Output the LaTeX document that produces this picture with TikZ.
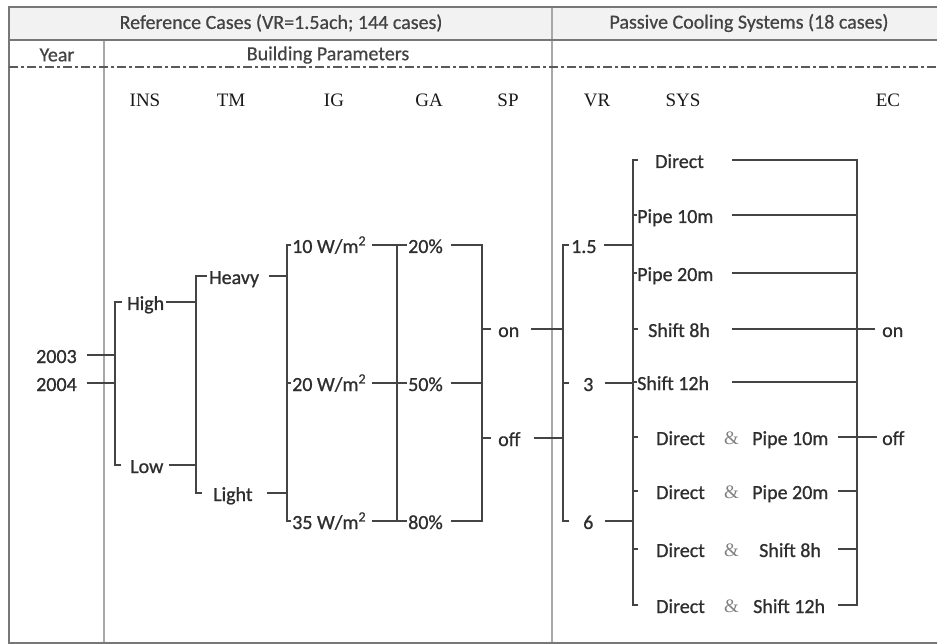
\documentclass[tikz,border=0pt]{standalone}
\usepackage{fontspec}
\setmainfont{Carlito}
\newfontfamily\lblfont{Carlito}[FakeBold=0.9]
\newfontfamily\hdfont{Carlito}[FakeBold=0.6]
\newfontfamily\serifhd{Liberation Serif}
\definecolor{txt}{HTML}{2E2E2E}
\definecolor{lc}{HTML}{444444}
\definecolor{frm}{HTML}{777777}
\definecolor{hdbg}{HTML}{F2F2F2}
\definecolor{sepc}{HTML}{A8A8A8}
\begin{document}
\begin{tikzpicture}[x=1pt,y=-1pt,
  lbl/.style={font=\lblfont\fontsize{20}{20}\selectfont, text=txt, inner sep=0pt, anchor=west, text height=16pt, text depth=0pt},
  hd/.style={font=\hdfont\fontsize{20}{20}\selectfont, text=txt!90, inner sep=0pt},
  colh/.style={font=\serifhd\fontsize{19}{19}\selectfont, text=black!90, inner sep=0pt},
  amp/.style={font=\serifhd\fontsize{19}{19}\selectfont, text=black!50, inner sep=0pt, anchor=west, text height=14pt, text depth=0pt},
  ln/.style={draw=lc, line width=1.9pt},
  frame/.style={draw=frm, line width=2.8pt},
  sepline/.style={draw=sepc, line width=1.6pt},
  dd/.style={draw=black!65, line width=1.9pt, dash pattern=on 9pt off 3pt on 3pt off 3pt}]
\useasboundingbox (0,0) rectangle (937,644);
% table frame
\fill[hdbg] (9,7) rectangle (937,40);
\draw[sepline] (552,7) -- (552,643);
\draw[sepline] (104,40) -- (104,643);
\draw[frame] (937,7) -- (9,7) -- (9,643) -- (937,643);
\draw[frame] (9,40) -- (937,40);
\draw[dd] (9,67) -- (937,67);
% headers
\node[hd] (h1) at (281,23) {Reference Cases (VR=1.5ach; 144 cases)};
\node[hd] (h2) at (749,23) {Passive Cooling Systems (18 cases)};
\node[hd] (h3) at (57,55) {Year};
\node[hd] (h4) at (328,55) {Building Parameters};
\node[colh] (cINS) at (145,100) {INS};
\node[colh] (cTM) at (231,100) {TM};
\node[colh] (cIG) at (334,100) {IG};
\node[colh] (cGA) at (429,100) {GA};
\node[colh] (cSP) at (508,100) {SP};
\node[colh] (cVR) at (597,100) {VR};
\node[colh] (cSYS) at (683,100) {SYS};
\node[colh] (cEC) at (888,100) {EC};
% bracket x positions
\coordinate (insx) at (115,0);
\coordinate (tmx) at (196,0);
\coordinate (igx) at (287,0);
\coordinate (gax) at (397,0);
\coordinate (spx) at (482,0);
\coordinate (vrx) at (563,0);
\coordinate (sysx) at (633,0);
\coordinate (ecx) at (857,0);
\coordinate (lsA) at (732,0);
\coordinate (lsB) at (838,0);
% years
\node[lbl] (y3) at (36,355) {2003};
\node[lbl] (y4) at (36,383) {2004};
\draw[ln] ([xshift=10pt]y3.east) -- (y3.east -| insx);
\draw[ln] ([xshift=10pt]y4.east) -- (y4.east -| insx);
% INS
\node[lbl] (high) at (127,302) {High};
\node[lbl] (low) at (130,465) {Low};
\draw[ln] (high.west -| insx) ++(7,0) -- ++(-7,0) -- (low.west -| insx) -- ++(6,0);
\draw[ln] ([xshift=2pt]high.east) -- (high.east -| tmx);
\draw[ln] ([xshift=5pt]low.east) -- (low.east -| tmx);
% TM
\node[lbl] (heavy) at (209,276) {Heavy};
\node[lbl] (light) at (213,493) {Light};
\draw[ln] (heavy.west -| tmx) ++(11,0) -- ++(-11,0) -- (light.west -| tmx) -- ++(6,0);
\draw[ln] ([xshift=10pt]heavy.east) -- (heavy.east -| igx);
\draw[ln] ([xshift=14pt]light.east) -- (light.east -| igx);
% IG
\node[lbl] (ig1) at (292,245) {10 W/m\textsuperscript{2}};
\node[lbl] (ig2) at (292,383) {20 W/m\textsuperscript{2}};
\node[lbl] (ig3) at (292,521) {35 W/m\textsuperscript{2}};
\draw[ln] (ig1.west -| igx) ++(4,0) -- ++(-4,0) -- (ig3.west -| igx) -- ++(4,0);
\draw[ln] (ig2.west -| igx) -- ++(4,0);
% GA
\node[lbl] (ga1) at (408,245) {20\%};
\node[lbl] (ga2) at (408,383) {50\%};
\node[lbl] (ga3) at (408,521) {80\%};
\draw[ln] ([xshift=6pt]ig1.east) -- ([xshift=-1pt]ga1.west);
\draw[ln] ([xshift=6pt]ig2.east) -- ([xshift=-1pt]ga2.west);
\draw[ln] ([xshift=6pt]ig3.east) -- ([xshift=-1pt]ga3.west);
\draw[ln] (ga1.west -| gax) -- (ga3.west -| gax);
\draw[ln] ([xshift=8pt]ga1.east) -- (ga1.east -| spx) -- (ga3.east -| spx) -- ([xshift=8pt]ga3.east);
\draw[ln] ([xshift=8pt]ga2.east) -- (ga2.east -| spx);
% SP
\node[lbl] (on) at (498,329) {on};
\node[lbl] (off) at (498,438) {off};
\draw[ln] (on.west -| spx) -- ++(9,0);
\draw[ln] (off.west -| spx) -- ++(9,0);
\draw[ln] ([xshift=12pt]on.east) -- (on.east -| vrx);
\draw[ln] ([xshift=13pt]off.east) -- (off.east -| vrx);
% VR
\node[lbl] (vr1) at (571,245) {1.5};
\node[lbl] (vr2) at (583,383) {3};
\node[lbl] (vr3) at (583,521) {6};
\draw[ln] (vr1.west -| vrx) ++(6,0) -- ++(-6,0) -- (vr3.west -| vrx) -- ++(6,0);
\draw[ln] (vr2.west -| vrx) -- ++(6,0);
\draw[ln] ([xshift=7pt]vr1.east) -- (vr1.east -| sysx);
\draw[ln] ([xshift=11pt]vr2.east) -- (vr2.east -| sysx);
\draw[ln] ([xshift=11pt]vr3.east) -- (vr3.east -| sysx);
% SYS
\node[lbl] (s1) at (655,160) {Direct};
\node[lbl] (s2) at (637,215) {Pipe 10m};
\node[lbl] (s3) at (637,273) {Pipe 20m};
\node[lbl] (s4) at (648,329) {Shift 8h};
\node[lbl] (s5) at (637,382) {Shift 12h};
\node[lbl] (d6) at (656,437) {Direct};
\node[amp] (a6) at (724,437) {\&};
\node[lbl] (p6) at (752,437) {Pipe 10m};
\node[lbl] (d7) at (656,491) {Direct};
\node[amp] (a7) at (724,491) {\&};
\node[lbl] (p7) at (752,491) {Pipe 20m};
\node[lbl] (d8) at (656,549) {Direct};
\node[amp] (a8) at (724,549) {\&};
\node[lbl] (p8) at (759,549) {Shift 8h};
\node[lbl] (d9) at (656,605) {Direct};
\node[amp] (a9) at (724,605) {\&};
\node[lbl] (p9) at (753,605) {Shift 12h};
\draw[ln] (s1.west -| sysx) ++(5,0) -- ++(-5,0) -- (d9.west -| sysx) -- ++(5,0);
\foreach \n in {s2,s3,s5}{\draw[ln] (\n.west -| sysx) -- ++(4,0);}
\foreach \n in {s4,d6,d7,d8}{\draw[ln] (\n.west -| sysx) -- ++(5,0);}
% EC
\node[lbl] (eon) at (882,329) {on};
\node[lbl] (eoff) at (882,437) {off};
\draw[ln] (s1.east -| lsA) -- (s1.east -| ecx) -- (p9.east -| ecx) -- (p9.east -| lsB);
\foreach \n in {s2,s3,s5}{\draw[ln] (\n.east -| lsA) -- (\n.east -| ecx);}
\draw[ln] (s4.east -| lsA) -- ([xshift=-7pt]eon.west);
\draw[ln] (p6.east -| lsB) -- ([xshift=-5pt]eoff.west);
\draw[ln] (p7.east -| lsB) -- (p7.east -| ecx);
\draw[ln] (p8.east -| lsB) -- (p8.east -| ecx);
\end{tikzpicture}
\end{document}
